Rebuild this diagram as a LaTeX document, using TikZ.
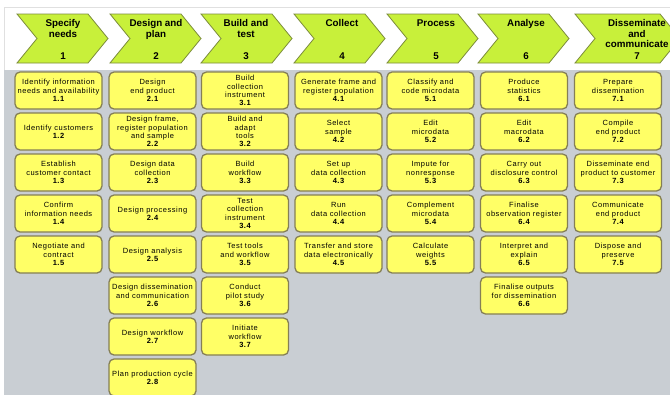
\documentclass[tikz,border=0pt]{standalone}
\usepackage{fontspec}
\setmainfont{Liberation Sans}
\newfontfamily\taskfont[LetterSpace=7]{Liberation Sans}
\definecolor{chevfill}{HTML}{C8F03A}
\definecolor{chevedge}{HTML}{7C8C3C}
\definecolor{taskfill}{HTML}{FFFF66}
\definecolor{taskedge}{HTML}{857F55}
\definecolor{backdrop}{HTML}{C9CED3}
\newcommand\tasknum[1]{{\bfseries #1}}
\begin{document}
\begin{tikzpicture}[x=1pt,y=-1pt,
  chev/.style={fill=chevfill,draw=chevedge,line width=0.8pt,line join=miter},
  chevtitle/.style={anchor=north,inner sep=0pt,align=center,
    font=\fontsize{9.8}{10.4}\selectfont\bfseries},
  chevnum/.style={inner sep=0pt,font=\fontsize{9.8}{10.4}\selectfont\bfseries},
  task/.style={draw=taskedge,fill=taskfill,line width=1.3pt,rounded corners=5pt,
    minimum width=87pt,minimum height=37pt,inner sep=1pt,align=center,
    font=\taskfont\fontsize{7.5}{8.3}\selectfont}]
\useasboundingbox (0,0) rectangle (670,394);
\clip (0,0) rectangle (670,394);
% white panel and grey task area
\path[fill=white] (0,0) rectangle (670,394);
\draw[black!12,line width=0.6pt,fill=white] (4,7) rectangle (690,420);
\fill[backdrop] (4,70) rectangle (690,420);

% phase chevrons
\foreach \L/\W/\T/\n/\title in {
  17/71/63/1/{Specify\\needs},
  110/71/156/2/{Design and\\plan},
  201/71/246/3/{Build and\\test},
  294/71/342/4/{Collect},
  387/71/436/5/{Process},
  478/71/526/6/{Analyse},
  575/85/637/7/{Disseminate\\and\\communicate}}{
  \path[chev] (\L,14) -- ++(\W,0) -- ++(20,24.5) -- ++(-20,24.5) -- (\L,63)
     -- ++(20,-24.5) -- cycle;
  \node[chevtitle] (h\n) at (\T,19.5) {\title};
  \node[chevnum] (n\n) at (\T,56) {\n};
}

% 1 Specify needs
\node[task] (t11) at (58.5,90.5) {Identify information\\needs and availability\\\tasknum{1.1}};
\node[task] (t12) at (58.5,131.5) {Identify customers\\\tasknum{1.2}};
\node[task] (t13) at (58.5,172.5) {Establish\\customer contact\\\tasknum{1.3}};
\node[task] (t14) at (58.5,213.5) {Confirm\\information needs\\\tasknum{1.4}};
\node[task] (t15) at (58.5,254.5) {Negotiate and\\contract\\\tasknum{1.5}};
% 2 Design and plan
\node[task] (t21) at (152.5,90.5) {Design\\end product\\\tasknum{2.1}};
\node[task] (t22) at (152.5,131.5) {Design frame,\\register population\\and sample\\\tasknum{2.2}};
\node[task] (t23) at (152.5,172.5) {Design data\\collection\\\tasknum{2.3}};
\node[task] (t24) at (152.5,213.5) {Design processing\\\tasknum{2.4}};
\node[task] (t25) at (152.5,254.5) {Design analysis\\\tasknum{2.5}};
\node[task] (t26) at (152.5,295.5) {Design dissemination\\and communication\\\tasknum{2.6}};
\node[task] (t27) at (152.5,336.5) {Design workflow\\\tasknum{2.7}};
\node[task] (t28) at (152.5,377.5) {Plan production cycle\\\tasknum{2.8}};
% 3 Build and test
\node[task] (t31) at (245,90.5) {Build\\collection\\instrument\\\tasknum{3.1}};
\node[task] (t32) at (245,131.5) {Build and\\adapt\\tools\\\tasknum{3.2}};
\node[task] (t33) at (245,172.5) {Build\\workflow\\\tasknum{3.3}};
\node[task] (t34) at (245,213.5) {Test\\collection\\instrument\\\tasknum{3.4}};
\node[task] (t35) at (245,254.5) {Test tools\\and workflow\\\tasknum{3.5}};
\node[task] (t36) at (245,295.5) {Conduct\\pilot study\\\tasknum{3.6}};
\node[task] (t37) at (245,336.5) {Initiate\\workflow\\\tasknum{3.7}};
% 4 Collect
\node[task] (t41) at (338.5,90.5) {Generate frame and\\register population\\\tasknum{4.1}};
\node[task] (t42) at (338.5,131.5) {Select\\sample\\\tasknum{4.2}};
\node[task] (t43) at (338.5,172.5) {Set up\\data collection\\\tasknum{4.3}};
\node[task] (t44) at (338.5,213.5) {Run\\data collection\\\tasknum{4.4}};
\node[task] (t45) at (338.5,254.5) {Transfer and store\\data electronically\\\tasknum{4.5}};
% 5 Process
\node[task] (t51) at (430.5,90.5) {Classify and\\code microdata\\\tasknum{5.1}};
\node[task] (t52) at (430.5,131.5) {Edit\\microdata\\\tasknum{5.2}};
\node[task] (t53) at (430.5,172.5) {Impute for\\nonresponse\\\tasknum{5.3}};
\node[task] (t54) at (430.5,213.5) {Complement\\microdata\\\tasknum{5.4}};
\node[task] (t55) at (430.5,254.5) {Calculate\\weights\\\tasknum{5.5}};
% 6 Analyse
\node[task] (t61) at (524,90.5) {Produce\\statistics\\\tasknum{6.1}};
\node[task] (t62) at (524,131.5) {Edit\\macrodata\\\tasknum{6.2}};
\node[task] (t63) at (524,172.5) {Carry out\\disclosure control\\\tasknum{6.3}};
\node[task] (t64) at (524,213.5) {Finalise\\observation register\\\tasknum{6.4}};
\node[task] (t65) at (524,254.5) {Interpret and\\explain\\\tasknum{6.5}};
\node[task] (t66) at (524,295.5) {Finalise outputs\\for dissemination\\\tasknum{6.6}};
% 7 Disseminate and communicate
\node[task] (t71) at (618,90.5) {Prepare\\dissemination\\\tasknum{7.1}};
\node[task] (t72) at (618,131.5) {Compile\\end product\\\tasknum{7.2}};
\node[task] (t73) at (618,172.5) {Disseminate end\\product to customer\\\tasknum{7.3}};
\node[task] (t74) at (618,213.5) {Communicate\\end product\\\tasknum{7.4}};
\node[task] (t75) at (618,254.5) {Dispose and\\preserve\\\tasknum{7.5}};
\end{tikzpicture}
\end{document}
